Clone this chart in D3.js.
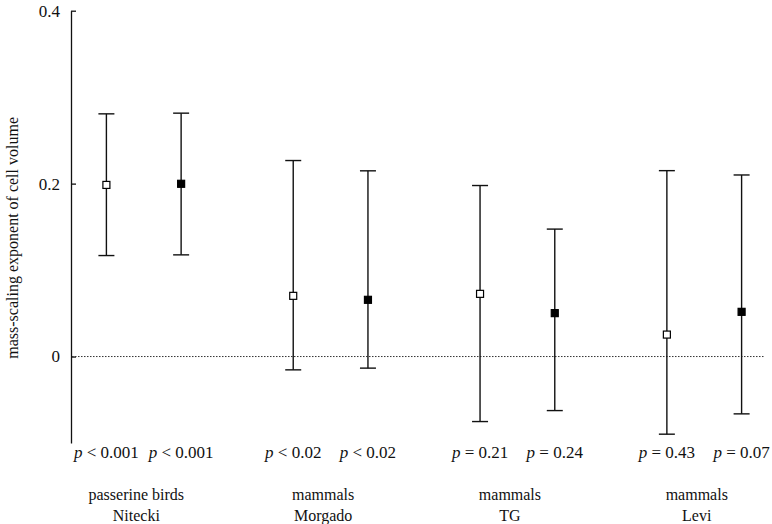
<!DOCTYPE html>
<html>
<head>
<meta charset="utf-8">
<script src="https://cdn.jsdelivr.net/npm/d3@7"></script>
<style>
  html, body { margin: 0; padding: 0; background: #fff; }
  svg { display: block; }
  text { font-family: "Liberation Serif", "DejaVu Serif", serif; fill: #111; }
</style>
</head>
<body>
<svg id="chart" width="772" height="524"></svg>
<script>
// ---- data ----
const groups = ["passerine birds", "mammals", "mammals", "mammals"];
const sources = ["Nitecki", "Morgado", "TG", "Levi"];
// two estimates per group: open marker then filled marker
const estimates = [0.1985, 0.1998, 0.0702, 0.0656, 0.0725, 0.0502, 0.0254, 0.0517];
const lower     = [0.1168, 0.1176, -0.0154, -0.0134, -0.0752, -0.0625, -0.0898, -0.0663];
const upper     = [0.2807, 0.2815, 0.2267, 0.2148, 0.1978, 0.1474, 0.2150, 0.2100];
const filled    = [false, true, false, true, false, true, false, true];
const pRel      = ["<", "<", "<", "<", "=", "=", "=", "="];
const pVal      = ["0.001", "0.001", "0.02", "0.02", "0.21", "0.24", "0.43", "0.07"];
const yTicks    = [0, 0.2, 0.4];
const yLabel    = "mass-scaling exponent of cell volume";

// ---- layout ----
const svg = d3.select("#chart");
const y = d3.scaleLinear().domain([-0.1, 0.4]).range([443, 10.7]);
// position index: groups separated by an extra 1.5 slot gap
const pos = i => Math.floor(i / 2) * 2.5 + (i % 2);
const x = d3.scaleLinear().domain([0, 8.5]).range([106.4, 741.6]);

const data = estimates.map((v, i) => ({
  v, lo: lower[i], hi: upper[i], filled: filled[i], rel: pRel[i], p: pVal[i], px: x(pos(i))
}));

// axis
const axis = d3.axisLeft(y).tickValues(yTicks)
  .tickFormat(d => d === 0 ? "0" : d3.format(".1f")(d))
  .tickSizeInner(-5).tickSizeOuter(0).tickPadding(11);
const gAxis = svg.append("g").attr("transform", "translate(71,0)").call(axis);
gAxis.select(".domain").attr("stroke", "#111").attr("stroke-width", 1.3);
gAxis.selectAll(".tick line").attr("stroke", "#111").attr("stroke-width", 1.3);
gAxis.selectAll(".tick text").attr("font-size", 17).attr("fill", "#111")
  .attr("font-family", "Liberation Serif, serif");

// zero line
svg.append("line")
  .attr("x1", 72).attr("x2", 765)
  .attr("y1", y(0)).attr("y2", y(0))
  .attr("stroke", "#333").attr("stroke-width", 1)
  .attr("stroke-dasharray", "1.5,1.5");

// y label
svg.append("text")
  .attr("transform", `translate(18,${(y(0.4) + y(-0.1)) / 2 + 11}) rotate(-90)`)
  .attr("text-anchor", "middle")
  .attr("font-size", 16)
  .text(yLabel);

// error bars
const eb = svg.append("g").selectAll("g").data(data).join("g");
eb.append("line")
  .attr("x1", d => d.px).attr("x2", d => d.px)
  .attr("y1", d => y(d.hi)).attr("y2", d => y(d.lo))
  .attr("stroke", "#111").attr("stroke-width", 1.4);
eb.append("line")
  .attr("x1", d => d.px - 8).attr("x2", d => d.px + 8)
  .attr("y1", d => y(d.hi)).attr("y2", d => y(d.hi))
  .attr("stroke", "#111").attr("stroke-width", 1.4);
eb.append("line")
  .attr("x1", d => d.px - 8).attr("x2", d => d.px + 8)
  .attr("y1", d => y(d.lo)).attr("y2", d => y(d.lo))
  .attr("stroke", "#111").attr("stroke-width", 1.4);
eb.append("rect")
  .attr("x", d => d.px - 3.5).attr("y", d => y(d.v) - 3.5)
  .attr("width", 7).attr("height", 7)
  .attr("fill", d => d.filled ? "#000" : "#fff")
  .attr("stroke", "#000").attr("stroke-width", 1.2);

// p-value labels
const pt = svg.append("g").selectAll("text").data(data).join("text")
  .attr("x", d => d.px).attr("y", 458)
  .attr("text-anchor", "middle")
  .attr("font-size", 17);
pt.append("tspan").attr("font-style", "italic").text("p");
pt.append("tspan").text(d => ` ${d.rel} ${d.p}`);

// group labels
const gl = svg.append("g").selectAll("text").data(groups).join("text")
  .attr("text-anchor", "middle")
  .attr("font-size", 16)
  .attr("x", (d, g) => x(g * 2.5 + 0.4));
gl.append("tspan").attr("y", 500).text(d => d);
gl.append("tspan").attr("y", 521).attr("x", (d, g) => x(g * 2.5 + 0.4)).text((d, g) => sources[g]);
</script>
</body>
</html>
